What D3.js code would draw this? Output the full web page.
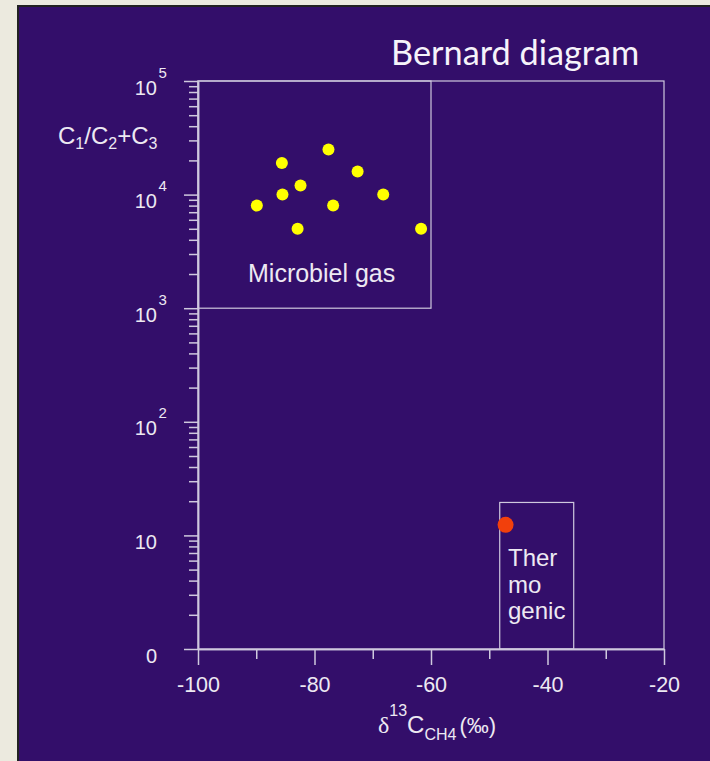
<!DOCTYPE html>
<html>
<head>
<meta charset="utf-8">
<script src="https://cdn.jsdelivr.net/npm/d3@7"></script>
<style>
	body{ margin:0; background:#ECEADF; }
	svg{ display:block; }
	.axis path, .axis line{ stroke:#CFC9DE; stroke-width:1.5; }
	.axis text{ fill:#EDE9F2; font-family:"Liberation Sans", Arial, sans-serif; }
</style>
</head>
<body>
<svg id="chart" width="710" height="761"></svg>
<script>
/* Bernard diagram : d13C(CH4) vs C1/(C2+C3) */
var microbialX = [-77.6, -85.6, -72.6, -82.4, -85.5, -68.2, -89.9, -76.8, -82.9, -61.7]
	,microbialY = [25000, 19000, 16000, 12000, 10000, 10000, 8000, 8000, 5000, 5000]
	,thermoX = [-47.2]
	,thermoY = [12.4]
	,xMajor = [-100, -80, -60, -40, -20]
	,xMinor = [-90, -70, -50, -30]
	,yMajor = [1, 10, 100, 1000, 10000, 100000]
	,yTickBase = ['0', '10', '10', '10', '10', '10']
	,yTickExp = ['', '', '2', '3', '4', '5']
	,microbialBox = [-100, -60, 1000, 100000]	// x0,x1,y0,y1
	,thermoBox = [-48.2, -35.5, 1, 19.5];

var svg = d3.select('#chart')
	,txtColor = '#EDE9F2'
	,lineColor = '#CFC9DE'
	,font = '"Liberation Sans", Arial, sans-serif';

// 배경 패널
svg.append('rect').attr('x', 0).attr('y', 0).attr('width', 710).attr('height', 761).attr('fill', '#ECEADF');
svg.append('rect').attr('x', 18).attr('y', 6).attr('width', 700).attr('height', 770)
	.attr('fill', '#330E6A').attr('stroke', '#222').attr('stroke-width', 2);

var x = d3.scaleLinear().domain([-100, -20]).range([198, 664]);
var y = d3.scaleLog().domain([1, 100000]).range([649, 81]);

// minor y ticks (2..9 per decade)
var yMinor = [];
yMajor.slice(0, -1).forEach(function(d){
	for(var k = 2; k < 10; k++) yMinor.push(d * k);
});

svg.append('g').attr('class', 'axis')
	.attr('transform', 'translate(198,0)')
	.call(d3.axisLeft(y).tickValues(yMinor).tickSize(9).tickSizeOuter(0).tickFormat(''));

var gY = svg.append('g').attr('class', 'axis')
	.attr('transform', 'translate(198,0)')
	.call(d3.axisLeft(y).tickValues(yMajor).tickSize(14).tickSizeOuter(0).tickFormat(''));
gY.selectAll('.tick text').remove();
gY.selectAll('.tick').each(function(d, i){
	var g = d3.select(this);
	g.append('text').attr('x', -41).attr('y', 13)
		.attr('text-anchor', 'end').attr('font-size', 20).text(yTickBase[i]);
	if(yTickExp[i]){
		g.append('text').attr('x', -39.5).attr('y', -4)
			.attr('text-anchor', 'start').attr('font-size', 15).text(yTickExp[i]);
	}
});

svg.append('g').attr('class', 'axis')
	.attr('transform', 'translate(0,649)')
	.call(d3.axisBottom(x).tickValues(xMinor).tickSize(10).tickSizeOuter(0).tickFormat(''));
var gX = svg.append('g').attr('class', 'axis')
	.attr('transform', 'translate(0,649)')
	.call(d3.axisBottom(x).tickValues(xMajor).tickSize(16).tickSizeOuter(0)
		.tickFormat(function(d){ return String(d); }));
gX.selectAll('.tick text').attr('font-size', 21.5).attr('dy', null).attr('y', 43);

// 박스
function drawBox(b){
	svg.append('rect')
		.attr('x', x(b[0])).attr('y', y(b[3]))
		.attr('width', x(b[1]) - x(b[0])).attr('height', y(b[2]) - y(b[3]))
		.attr('fill', 'none').attr('stroke', lineColor).attr('stroke-width', 1.2);
}
drawBox([-100, -20, 1, 100000]);
drawBox(microbialBox);
drawBox(thermoBox);

// points
svg.append('g').selectAll('circle').data(microbialX).enter().append('circle')
	.attr('cx', function(d){ return x(d); })
	.attr('cy', function(d, i){ return y(microbialY[i]); })
	.attr('r', 6).attr('fill', '#FFFF00');
svg.append('g').selectAll('circle').data(thermoX).enter().append('circle')
	.attr('cx', function(d){ return x(d); })
	.attr('cy', function(d, i){ return y(thermoY[i]); })
	.attr('r', 8).attr('fill', '#F2400C');

// labels
svg.append('text').attr('x', 248).attr('y', 282)
	.attr('font-family', font).attr('font-size', 25).attr('fill', txtColor).text('Microbiel gas');
var tl = svg.append('text').attr('font-family', font).attr('font-size', 24).attr('fill', txtColor);
['Ther', 'mo', 'genic'].forEach(function(s, i){
	tl.append('tspan').attr('x', 508).attr('y', 566 + i * 26.5).text(s);
});

svg.append('text').attr('x', 391).attr('y', 65)
	.attr('font-family', 'Lato, "Open Sans", sans-serif').attr('font-size', 34.3)
	.attr('fill', '#F6F3FA').text('Bernard diagram');

// y title C1/C2+C3
var yt = svg.append('text').attr('x', 58).attr('y', 144)
	.attr('font-family', font).attr('font-size', 24).attr('fill', txtColor);
var prevSub = false;
[['C', 0], ['1', 1], ['/C', 0], ['2', 1], ['+C', 0], ['3', 1]].forEach(function(p){
	var dy = p[1] ? 5 : (prevSub ? -5 : 0);
	yt.append('tspan').attr('font-size', p[1] ? 16 : 24).attr('dy', dy).text(p[0]);
	prevSub = !!p[1];
});

// x title  δ13CCH4 (‰)
var xt = svg.append('text').attr('x', 378).attr('y', 733)
	.attr('font-family', font).attr('font-size', 24).attr('fill', txtColor);
xt.append('tspan').attr('font-family', '"Liberation Serif", serif').text('δ');
xt.append('tspan').attr('font-size', 16).attr('dy', -17).text('13');
xt.append('tspan').attr('dy', 17).text('C');
xt.append('tspan').attr('font-size', 16).attr('dy', 7).text('CH4');
xt.append('tspan').attr('font-size', 22).attr('dy', -7).attr('dx', 3).text('(‰)');
</script>
</body>
</html>
